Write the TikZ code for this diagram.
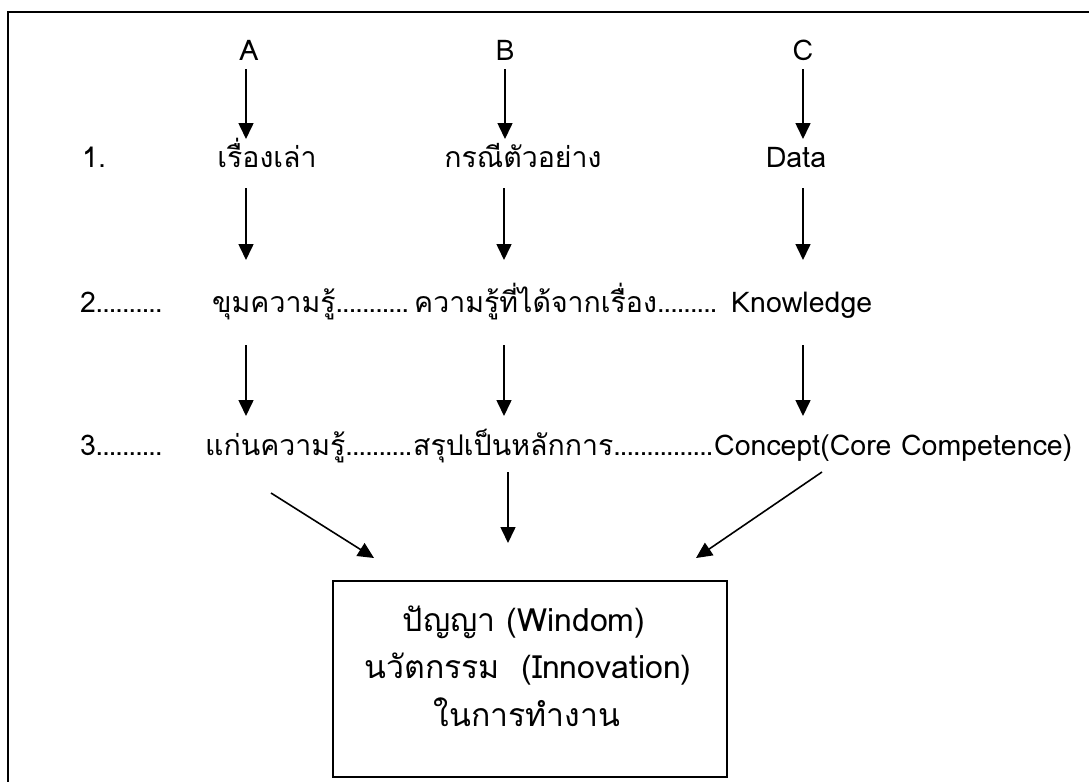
\documentclass[tikz,border=0pt]{standalone}
\usepackage{fontspec}
\setmainfont[Script=Thai]{Loma}
\usetikzlibrary{arrows.meta,calc}
% a run of tightly set dots of a given width
\newcommand\dotrun[1]{\hbox to #1{\leaders\hbox to 6.6pt{\hss.\hss}\hfill}}
\tikzset{
  txt/.style={inner sep=0pt, anchor=base west, font=\fontsize{28.5}{32}\selectfont},
  ctxt/.style={inner sep=0pt, anchor=base, font=\fontsize{28.5}{32}\selectfont},
  btxt/.style={inner sep=0pt, anchor=base, font=\fontsize{32}{36}\selectfont},
  flow/.style={line width=1.6pt, -{Triangle[width=15pt,length=16pt]}},
  frame/.style={line width=2.2pt},
  boxline/.style={line width=1.6pt}
}
\begin{document}
\begin{tikzpicture}[x=1pt,y=-1pt]
\useasboundingbox (0,0) rectangle (1089,782);
\fill[white] (0,0) rectangle (1089,782);

% outer frame (top and left edges)
\draw[frame] (1089,12) -- (8,12) -- (8,782);

% column heads
\node[ctxt] (hA) at (249,60) {A};
\node[ctxt] (hB) at (505,60) {B};
\node[ctxt] (hC) at (803,60) {C};

% row labels
\node[txt] (n1) at (82,167) {1.};
\node[txt] (n2) at (80,312) {2\dotrun{72pt}};
\node[txt] (n3) at (80,455) {3\dotrun{72pt}};

% row 1
\node[ctxt] (r1a) at (267,167) {เรื่องเล่า};
\node[ctxt] (r1b) at (523,167) {กรณีตัวอย่าง};
\node[ctxt] (r1c) at (796,167) {Data};

% row 2
\node[txt] (r2a) at (212,312) {ขุมความรู้};
\node[txt] (r2b) at (414,312) {ความรู้ที่ได้จากเรื่อง};
\node[txt] (r2c) at (731,312) {Knowledge};
\path let \p1=(r2a.base east), \p2=(r2b.base west) in
  node[txt] (d2a) at (\p1) {\dotrun{\dimexpr\x2-\x1\relax}};
\path let \p1=(r2b.base east), \p2=(r2c.base west) in
  node[txt] (d2b) at (\p1) {\dotrun{\dimexpr\x2-\x1-8pt\relax}};

% row 3
\node[txt] (r3a) at (205,455) {แก่นความรู้};
\node[txt] (r3b) at (413,455) {สรุปเป็นหลักการ};
\node[txt] (r3c) at (714,455) {Concept(Core Competence)};
\path let \p1=(r3a.base east), \p2=(r3b.base west) in
  node[txt] (d3a) at (\p1) {\dotrun{\dimexpr\x2-\x1\relax}};
\path let \p1=(r3b.base east), \p2=(r3c.base west) in
  node[txt] (d3b) at (\p1) {\dotrun{\dimexpr\x2-\x1\relax}};

% result box
\node[boxline, draw, minimum width=394pt, minimum height=196pt, inner sep=0pt] (res) at (530,679) {};
\node[btxt] (w1) at (524,631) {ปัญญา (Windom)};
\node[btxt] (w2) at (528,678) {นวัตกรรม\ \ (Innovation)};
\node[btxt] (w3) at (527,726) {ในการทำงาน};

% arrow end points
\coordinate (a0s) at (246,69);  \coordinate (a0e) at (246,139);
\coordinate (b0s) at (505,69);  \coordinate (b0e) at (505,139);
\coordinate (c0s) at (803,69);  \coordinate (c0e) at (803,139);
\coordinate (a1s) at (246,188); \coordinate (a1e) at (246,260);
\coordinate (b1s) at (504,188); \coordinate (b1e) at (504,260);
\coordinate (c1s) at (803,188); \coordinate (c1e) at (803,260);
\coordinate (a2s) at (246,345); \coordinate (a2e) at (246,416);
\coordinate (b2s) at (504,345); \coordinate (b2e) at (504,416);
\coordinate (c2s) at (803,345); \coordinate (c2e) at (803,416);
\coordinate (ls) at (271,493);  \coordinate (le) at (374,558);
\coordinate (ms) at (508,472);  \coordinate (me) at (508,543);
\coordinate (rs) at (822,472);  \coordinate (re) at (696,558);

\foreach \s/\e in {a0s/a0e,b0s/b0e,c0s/c0e,a1s/a1e,b1s/b1e,c1s/c1e,
                   a2s/a2e,b2s/b2e,c2s/c2e,ls/le,ms/me,rs/re}
  \draw[flow] (\s) -- (\e);
\end{tikzpicture}
\end{document}
